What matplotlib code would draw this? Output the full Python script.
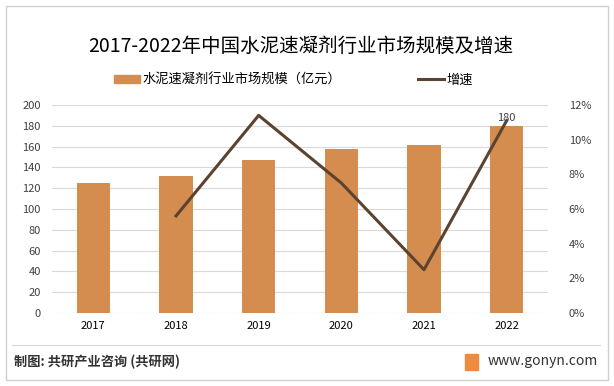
import matplotlib.pyplot as plt
import numpy as np
from matplotlib.patches import Rectangle
from matplotlib.lines import Line2D

plt.rcParams['font.family'] = ['Noto Sans CJK SC', 'DejaVu Sans']

years = ['2017', '2018', '2019', '2020', '2021', '2022']
market_size = [125, 132, 147, 158, 162, 180]  # 亿元
growth_years = ['2018', '2019', '2020', '2021', '2022']
growth_rate = [5.6, 11.4, 7.5, 2.5, 11.1]  # %

bar_color = '#D48C4F'
line_color = '#5C4330'
grid_color = '#D9D9D9'
text_color = '#404040'

fig = plt.figure(figsize=(6.14, 3.86), dpi=100)
ax = fig.add_axes([0.0847, 0.189, 0.8078, 0.539])
ax2 = ax.twinx()

x = np.arange(len(years))
bars = ax.bar(x, market_size, width=0.4, color=bar_color, zorder=2)
gx = [years.index(y) for y in growth_years]
ax2.plot(gx, growth_rate, color=line_color, linewidth=2.2, zorder=3)

ax.set_xlim(-0.5, len(years) - 0.5)
ax.set_ylim(0, 200)
ax.set_yticks(range(0, 201, 20))
ax2.set_ylim(0, 12)
ax2.set_yticks(range(0, 13, 2))
ax2.set_yticklabels([f'{v}%' for v in range(0, 13, 2)])
ax.set_xticks(x)
ax.set_xticklabels(years)

ax.grid(axis='y', color=grid_color, linewidth=0.8, zorder=0)
ax.set_axisbelow(True)
for a in (ax, ax2):
    for s in a.spines.values():
        s.set_visible(False)
    a.tick_params(length=0, labelsize=8, colors=text_color)
ax.tick_params(axis='y', pad=8)
ax2.tick_params(axis='y', pad=15)
ax.tick_params(axis='x', pad=6, labelcolor='black')

ax.text(x[-1], market_size[-1] + 3, str(market_size[-1]), ha='center', va='bottom',
        fontsize=8, color=text_color, zorder=5)

fig.text(0.49, 0.88, '2017-2022年中国水泥速凝剂行业市场规模及增速', ha='center', va='center',
         fontsize=14, color='black')

handles = [Rectangle((0, 0), 1, 1, color=bar_color),
           Line2D([0], [0], color=line_color, linewidth=2.2)]
fig.legend(handles, ['水泥速凝剂行业市场规模（亿元）', '增速'], loc='center',
           bbox_to_anchor=(0.478, 0.793), ncol=2, frameon=False, fontsize=9.5,
           handlelength=2.0, handleheight=0.55, columnspacing=5.8, handletextpad=0.2)

# frame and footer
fig.patches.append(Rectangle((6 / 614, 6 / 386), 602 / 614, 374 / 386, transform=fig.transFigure,
                             fill=False, edgecolor='#D0D0D0', linewidth=1))
fig.lines.append(Line2D([12 / 614, 600 / 614], [1 - 345 / 386] * 2, transform=fig.transFigure,
                        color='#D9D9D9', linewidth=0.8))
fig.text(14 / 614, 1 - 362 / 386, '制图: 共研产业咨询 (共研网)', ha='left', va='center',
         fontsize=9.5, color='#333333', fontweight='bold')
fig.patches.append(Rectangle((465 / 614, 1 - 370 / 386), 13 / 614, 16 / 386, transform=fig.transFigure,
                             color='#F08A3C'))
fig.text(598 / 614, 1 - 361 / 386, 'www.gonyn.com', ha='right', va='center',
         fontsize=10, color='#333333')

fig.savefig('out.png', dpi=100)
